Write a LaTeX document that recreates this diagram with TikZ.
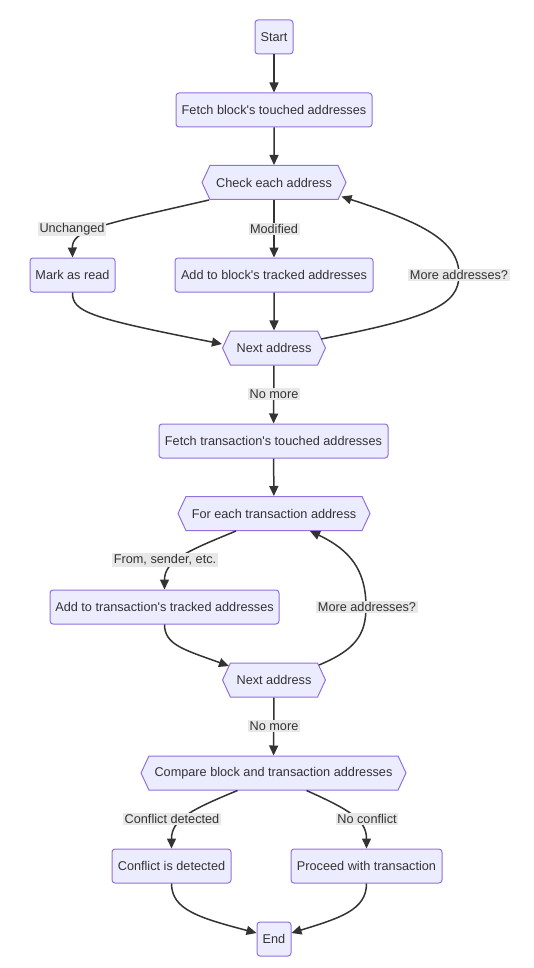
\documentclass[tikz,border=0pt]{standalone}
\usepackage{fontspec}
\setmainfont{Liberation Sans}
\usetikzlibrary{shapes.symbols,arrows.meta}
\definecolor{nodefill}{HTML}{ECECFF}
\definecolor{nodeline}{HTML}{9370DB}
\definecolor{edgecol}{HTML}{333333}
\definecolor{lblbg}{HTML}{E8E8E8}
\begin{document}
\begin{tikzpicture}[x=1pt,y=-1pt,
  font=\fontsize{12.7}{15}\selectfont, text=edgecol,
  box/.style={draw=nodeline, fill=nodefill, line width=1pt, rounded corners=3pt, minimum height=34pt, inner sep=0pt},
  hexa/.style={draw=nodeline, fill=nodefill, line width=1pt, signal, signal to=west and east, signal pointer angle=130, minimum height=34pt, inner sep=0pt},
  arr/.style={draw=edgecol, line width=1.5pt, -{Triangle[length=10pt,width=9pt]}},
  lbl/.style={fill=lblbg, inner sep=1.5pt, text=edgecol}]
\useasboundingbox[fill=white] (0,0) rectangle (534,968);

\node[box, minimum width=38pt] (start) at (274,37) {Start};
\node[box, minimum width=196pt] (fetchb) at (274,110) {Fetch block\textquotesingle s touched addresses};
\node[hexa, minimum width=144pt] (check) at (274,182.5) {Check each address};
\node[box, minimum width=85pt] (mark) at (72.5,275) {Mark as read};
\node[box, minimum width=198pt] (addb) at (274,275) {Add to block\textquotesingle s tracked addresses};
\node[hexa, minimum width=103pt] (next1) at (274,348) {Next address};
\node[box, minimum width=229pt] (fetcht) at (273.5,441) {Fetch transaction\textquotesingle s touched addresses};
\node[hexa, minimum width=192pt] (foreach) at (274,513.5) {For each transaction address};
\node[box, minimum width=229pt] (addt) at (164.5,607) {Add to transaction\textquotesingle s tracked addresses};
\node[hexa, minimum width=103pt] (next2) at (274,680) {Next address};
\node[hexa, minimum width=265pt] (compare) at (273.5,773) {Compare block and transaction addresses};
\node[box, minimum width=119pt] (conf) at (171.5,866) {Conflict is detected};
\node[box, minimum width=151pt] (proc) at (366.5,866) {Proceed with transaction};
\node[box, minimum width=34pt] (end) at (274,939) {End};

\draw[arr] (start) -- (fetchb);
\draw[arr] (fetchb) -- (check);
\draw[arr] ([xshift=-65pt]check.south) .. controls (100,225) and (72,230) .. (mark.north);
\draw[arr] (check) -- (addb);
\draw[arr] (mark.south) .. controls (72,312) and (90,318) .. ([yshift=4pt]next1.west);
\draw[arr] (addb) -- (next1);
\draw[arr] ([xshift=-5pt,yshift=9pt]next1.east) .. controls (430,318) and (459,305) .. (459,275)
  .. controls (459,240) and (420,222) .. ([xshift=-5pt,yshift=-14pt]check.east);
\draw[arr] (next1) -- (fetcht);
\draw[arr] (fetcht) -- (foreach);
\draw[arr] ([xshift=-38pt]foreach.south) .. controls (190,550) and (164.5,560) .. (addt.north);
\draw[arr] (addt.south) .. controls (164.5,645) and (185,650) .. ([xshift=7pt,yshift=14pt]next2.west);
\draw[arr] ([xshift=-7pt,yshift=15pt]next2.east) .. controls (355,650) and (366,635) .. (366,607)
  .. controls (366,570) and (350,550) .. ([xshift=36pt]foreach.south);
\draw[arr] (next2) -- (compare);
\draw[arr] ([xshift=-36pt]compare.south) .. controls (190,810) and (171.5,820) .. (conf.north);
\draw[arr] ([xshift=33pt]compare.south) .. controls (350,810) and (366.5,820) .. (proc.north);
\draw[arr] (conf.south) .. controls (171.5,910) and (200,918) .. ([yshift=6pt]end.west);
\draw[arr] (proc.south) .. controls (366.5,910) and (340,918) .. ([yshift=6pt]end.east);

\node[lbl] (l1) at (72,229) {Unchanged};
\node[lbl] (l2) at (274,229) {Modified};
\node[lbl] (l3) at (459,275) {More addresses?};
\node[lbl] (l4) at (274,394) {No more};
\node[lbl] (l5) at (165,560) {From, sender, etc.};
\node[lbl] (l6) at (367,607) {More addresses?};
\node[lbl] (l7) at (274,726) {No more};
\node[lbl] (l8) at (172,819) {Conflict detected};
\node[lbl] (l9) at (367,819) {No conflict};
\end{tikzpicture}
\end{document}
